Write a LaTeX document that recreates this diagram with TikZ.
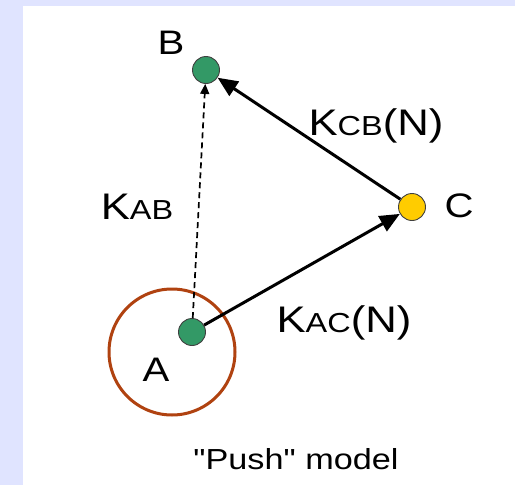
\documentclass[tikz,border=0pt]{standalone}
\usepackage{fontspec}
\setmainfont[FakeStretch=1.18]{Liberation Sans}
\newfontfamily\capfont[FakeStretch=1.18,Ligatures=TeXOff]{Liberation Sans}
\usetikzlibrary{arrows.meta}
\definecolor{lav}{RGB}{224,228,255}
\definecolor{dotgreen}{RGB}{51,153,102}
\definecolor{dotyellow}{RGB}{255,204,0}
\definecolor{ringbrown}{RGB}{176,66,16}
\tikzset{
  dot/.style={circle, draw=black!75, line width=0.9pt, minimum size=27pt, inner sep=0pt},
  lbl/.style={inner sep=0pt, font=\fontsize{34}{38}\selectfont},
  klbl/.style={inner sep=0pt, font=\fontsize{37}{40}\selectfont},
  link/.style={line width=3pt, -{Triangle[length=20pt,width=17pt]}},
  weak/.style={line width=1.7pt, dash pattern=on 6pt off 4pt, -{Triangle[length=10pt,width=9pt]}},
}
\newcommand{\sm}[1]{{\fontsize{27.5}{30}\selectfont #1}}
\begin{document}
\begin{tikzpicture}[x=1pt,y=-1pt]
\fill[lav] (0,0) rectangle (515,485);
\fill[white] (23,6) rectangle (515,485);
\useasboundingbox (0,0) rectangle (515,485);
\node[draw=ringbrown, line width=3pt, circle, minimum size=126pt, inner sep=0pt] (ring) at (172,352) {};
\node[dot, fill=dotgreen] (A) at (192,332) {};
\node[dot, fill=dotgreen] (B) at (206,70) {};
\node[dot, fill=dotyellow] (C) at (412,207) {};
\node[lbl] (lA) at (156,370) {A};
\node[lbl] (lB) at (171,43) {B};
\node[lbl] (lC) at (459,206) {C};
\node[klbl] (kab) at (137,207) {K\sm{AB}};
\node[klbl] (kcb) at (376,126) {K\sm{CB}(N)};
\node[klbl] (kac) at (344,323) {K\sm{AC}(N)};
\node[inner sep=0pt, font=\capfont\fontsize{29}{32}\selectfont] (cap) at (296,459) {"Push" model};
\draw[weak] (A) -- (B);
\draw[link] (A) -- (C);
\draw[link] (C) -- (B);
\end{tikzpicture}
\end{document}
